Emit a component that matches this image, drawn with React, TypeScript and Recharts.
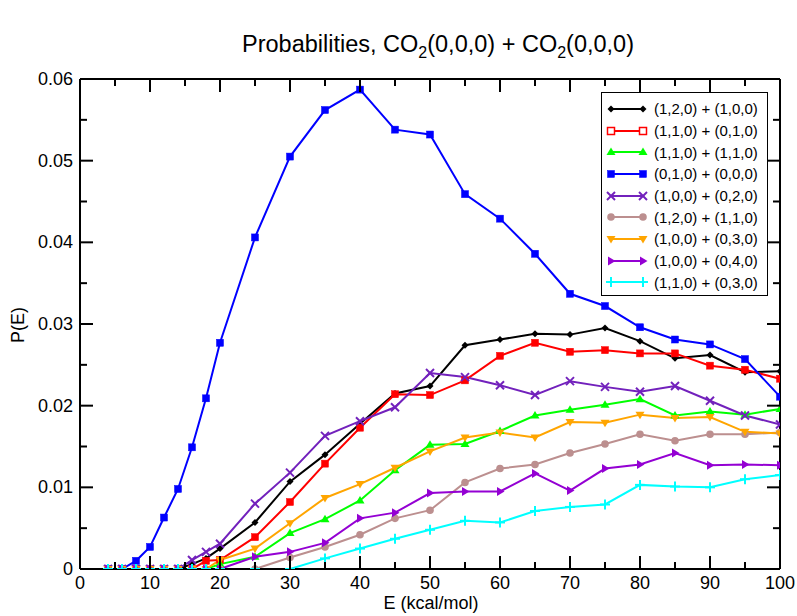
import React from 'react';
import { LineChart, Line, XAxis, YAxis } from 'recharts';

// energies (kcal/mol) at which P(E) was sampled
const energies = [4, 6, 8, 10, 12, 14, 16, 18, 20, 25, 30, 35, 40, 45, 50, 55, 60, 65, 70, 75, 80, 85, 90, 95, 100];

const p120_100 = [0, 0, 0, 0, 0, 0, 0.0006, 0.0013, 0.0025, 0.0057, 0.0107, 0.014, 0.0178, 0.0215, 0.0224, 0.0274, 0.0281, 0.0288, 0.0287, 0.0295, 0.0279, 0.0258, 0.0262, 0.0241, 0.0242];
const p110_010 = [0, 0, 0, 0, 0, 0, 0, 0.001, 0.0011, 0.0039, 0.0082, 0.0129, 0.0173, 0.0214, 0.0213, 0.0231, 0.0261, 0.0277, 0.0266, 0.0268, 0.0264, 0.0264, 0.0249, 0.0244, 0.0233];
const p110_110 = [0, 0, 0, 0, 0, 0, 0, 0, 0.0006, 0.0015, 0.0044, 0.0061, 0.0084, 0.0121, 0.0152, 0.0153, 0.0169, 0.0188, 0.0195, 0.0201, 0.0208, 0.0188, 0.0193, 0.0189, 0.0196];
const p010_000 = [0, 0, 0.001, 0.0027, 0.0063, 0.0098, 0.0149, 0.0209, 0.0277, 0.0406, 0.0505, 0.0562, 0.0587, 0.0538, 0.0532, 0.0459, 0.0429, 0.0386, 0.0337, 0.0322, 0.0296, 0.0281, 0.0275, 0.0257, 0.0211];
const p100_020 = [0, 0, 0, 0, 0, 0, 0.0011, 0.0021, 0.0031, 0.008, 0.0118, 0.0163, 0.0181, 0.0198, 0.024, 0.0235, 0.0225, 0.0213, 0.023, 0.0223, 0.0217, 0.0224, 0.0206, 0.0188, 0.0177];
const p120_110 = [0, 0, 0, 0, 0, 0, 0, 0, 0, 0, 0.0014, 0.0027, 0.0042, 0.0062, 0.0072, 0.0106, 0.0123, 0.0128, 0.0142, 0.0153, 0.0165, 0.0157, 0.0165, 0.0165, 0.0167];
const p100_030 = [0, 0, 0, 0, 0, 0, 0, 0, 0.0011, 0.0025, 0.0056, 0.0087, 0.0104, 0.0124, 0.0144, 0.0161, 0.0167, 0.0161, 0.018, 0.0179, 0.0189, 0.0185, 0.0186, 0.0168, 0.0166];
const p100_040 = [0, 0, 0, 0, 0, 0, 0, 0, 0, 0.0015, 0.0021, 0.0032, 0.0062, 0.0069, 0.0093, 0.0095, 0.0095, 0.0117, 0.0096, 0.0123, 0.0128, 0.0142, 0.0127, 0.0128, 0.0127];
const p110_030 = [0, 0, 0, 0, 0, 0, 0, 0, 0, 0, 0, 0.0013, 0.0025, 0.0037, 0.0048, 0.0059, 0.0057, 0.0071, 0.0076, 0.0079, 0.0103, 0.0101, 0.01, 0.011, 0.0115];

const xTicks = [0, 5, 10, 15, 20, 25, 30, 35, 40, 45, 50, 55, 60, 65, 70, 75, 80, 85, 90, 95, 100];
const yTicks = [0, 0.005, 0.01, 0.015, 0.02, 0.025, 0.03, 0.035, 0.04, 0.045, 0.05, 0.055, 0.06];

type Shape = 'diamond' | 'square' | 'triUp' | 'cross' | 'circle' | 'triDown' | 'triRight' | 'plus';

const series: { key: string; name: string; color: string; shape: Shape; values: number[] }[] = [
  { key: 's0', name: '(1,2,0) + (1,0,0)', color: '#000000', shape: 'diamond', values: p120_100 },
  { key: 's1', name: '(1,1,0) + (0,1,0)', color: '#ff0000', shape: 'square', values: p110_010 },
  { key: 's2', name: '(1,1,0) + (1,1,0)', color: '#00ff00', shape: 'triUp', values: p110_110 },
  { key: 's3', name: '(0,1,0) + (0,0,0)', color: '#0000ff', shape: 'square', values: p010_000 },
  { key: 's4', name: '(1,0,0) + (0,2,0)', color: '#7221bc', shape: 'cross', values: p100_020 },
  { key: 's5', name: '(1,2,0) + (1,1,0)', color: '#bc8f8f', shape: 'circle', values: p120_110 },
  { key: 's6', name: '(1,0,0) + (0,3,0)', color: '#ffa500', shape: 'triDown', values: p100_030 },
  { key: 's7', name: '(1,0,0) + (0,4,0)', color: '#9400d3', shape: 'triRight', values: p100_040 },
  { key: 's8', name: '(1,1,0) + (0,3,0)', color: '#00ffff', shape: 'plus', values: p110_030 },
];

const data = energies.map((E, i) => {
  const row: Record<string, number> = { E };
  series.forEach((s) => (row[s.key] = s.values[i]));
  return row;
});

const FONT = '"Liberation Sans", Arial, Helvetica, sans-serif';

function Marker({ shape, cx, cy, color, hollow }: { shape: Shape; cx: number; cy: number; color: string; hollow?: boolean }) {
  const r = 3.5;
  switch (shape) {
    case 'diamond':
      return <polygon points={`${cx},${cy - r} ${cx + r},${cy} ${cx},${cy + r} ${cx - r},${cy}`} fill={color} />;
    case 'square':
      return (
        <rect
          x={cx - 3.5}
          y={cy - 3.5}
          width={7}
          height={7}
          fill={hollow ? '#fff' : color}
          stroke={color}
          strokeWidth={hollow ? 1.5 : 0.5}
        />
      );
    case 'triUp':
      return <polygon points={`${cx},${cy - 4.5} ${cx + 4.5},${cy + 3} ${cx - 4.5},${cy + 3}`} fill={color} />;
    case 'triDown':
      return <polygon points={`${cx - 4.5},${cy - 3} ${cx + 4.5},${cy - 3} ${cx},${cy + 4.5}`} fill={color} />;
    case 'triRight':
      return <polygon points={`${cx - 3},${cy - 4.5} ${cx + 4.5},${cy} ${cx - 3},${cy + 4.5}`} fill={color} />;
    case 'circle':
      return <circle cx={cx} cy={cy} r={3.8} fill={color} />;
    case 'cross':
      return (
        <g stroke={color} strokeWidth={2}>
          <line x1={cx - 4} y1={cy - 4} x2={cx + 4} y2={cy + 4} />
          <line x1={cx - 4} y1={cy + 4} x2={cx + 4} y2={cy - 4} />
        </g>
      );
    case 'plus':
      return (
        <g stroke={color} strokeWidth={2}>
          <line x1={cx - 5} y1={cy} x2={cx + 5} y2={cy} />
          <line x1={cx} y1={cy - 5} x2={cx} y2={cy + 5} />
        </g>
      );
  }
  return null;
}

const isMajorX = (v: number) => v % 10 === 0;
const isMajorY = (v: number) => Math.round(v * 1000) % 10 === 0;

function BottomTick(props: any) {
  const { x, y, payload } = props;
  const major = isMajorX(payload.value);
  return (
    <g>
      <line x1={x} y1={y} x2={x} y2={y - (major ? 13 : 7)} stroke="#000" strokeWidth={2} />
      {major && (
        <text x={x} y={y + 20} textAnchor="middle" fontSize={18} fontFamily={FONT} fill="#000">
          {payload.value}
        </text>
      )}
    </g>
  );
}

function TopTick(props: any) {
  const { x, y, payload } = props;
  const major = isMajorX(payload.value);
  return <line x1={x} y1={y} x2={x} y2={y + (major ? 13 : 7)} stroke="#000" strokeWidth={2} />;
}

function LeftTick(props: any) {
  const { x, y, payload } = props;
  const major = isMajorY(payload.value);
  return (
    <g>
      <line x1={x} y1={y} x2={x + (major ? 13 : 7)} y2={y} stroke="#000" strokeWidth={2} />
      {major && (
        <text x={x - 7} y={y + 6} textAnchor="end" fontSize={18} fontFamily={FONT} fill="#000">
          {String(payload.value)}
        </text>
      )}
    </g>
  );
}

function RightTick(props: any) {
  const { x, y, payload } = props;
  const major = isMajorY(payload.value);
  return <line x1={x} y1={y} x2={x - (major ? 13 : 7)} y2={y} stroke="#000" strokeWidth={2} />;
}

function ChartLegend() {
  return (
    <div
      style={{
        position: 'absolute',
        left: 601,
        top: 92,
        width: 167,
        height: 204,
        border: '1px solid #000',
        background: '#fff',
        fontFamily: FONT,
        fontSize: 15,
        boxSizing: 'border-box',
        paddingTop: 5,
      }}
    >
      {series.map((s, i) => (
        <div key={s.key} style={{ display: 'flex', alignItems: 'center', height: 21.7 }}>
          <svg width={52} height={16} style={{ flex: 'none' }}>
            <line x1={9} y1={8} x2={41} y2={8} stroke={s.color} strokeWidth={2} />
            <Marker shape={s.shape} cx={9} cy={8} color={s.color} hollow={i === 1} />
            <Marker shape={s.shape} cx={41} cy={8} color={s.color} hollow={i === 1} />
          </svg>
          <span style={{ whiteSpace: 'nowrap' }}>{s.name}</span>
        </div>
      ))}
    </div>
  );
}

export default function App() {
  return (
    <div style={{ position: 'absolute', left: 0, top: 0, width: 797, height: 616, background: '#fff', fontFamily: FONT }}>
      <div
        style={{
          position: 'absolute',
          left: 438,
          top: 30,
          transform: 'translateX(-50%)',
          whiteSpace: 'nowrap',
          fontSize: 23.5,
          lineHeight: '28px',
        }}
      >
        Probabilities, CO<sub style={{ fontSize: 16 }}>2</sub>(0,0,0) + CO<sub style={{ fontSize: 16 }}>2</sub>(0,0,0)
      </div>
      <LineChart width={797} height={616} data={data} margin={{ top: 78, right: 16, bottom: 46, left: 79 }}>
        <XAxis
          dataKey="E"
          type="number"
          domain={[0, 100]}
          ticks={xTicks}
          interval={0}
          height={1}
          tickSize={0}
          tickMargin={0}
          tickLine={false}
          tick={<BottomTick />}
          axisLine={{ stroke: '#000', strokeWidth: 2 }}
          allowDataOverflow
        />
        <XAxis
          xAxisId="top"
          orientation="top"
          dataKey="E"
          type="number"
          domain={[0, 100]}
          ticks={xTicks}
          interval={0}
          height={1}
          tickSize={0}
          tickMargin={0}
          tickLine={false}
          tick={<TopTick />}
          axisLine={{ stroke: '#000', strokeWidth: 2 }}
          allowDataOverflow
        />
        <YAxis
          type="number"
          domain={[0, 0.06]}
          ticks={yTicks}
          interval={0}
          width={1}
          tickSize={0}
          tickMargin={0}
          tickLine={false}
          tick={<LeftTick />}
          axisLine={{ stroke: '#000', strokeWidth: 2 }}
          allowDataOverflow
        />
        <YAxis
          yAxisId="right"
          orientation="right"
          type="number"
          domain={[0, 0.06]}
          ticks={yTicks}
          interval={0}
          width={1}
          tickSize={0}
          tickMargin={0}
          tickLine={false}
          tick={<RightTick />}
          axisLine={{ stroke: '#000', strokeWidth: 2 }}
          allowDataOverflow
        />
        {series.map((s) => (
          <Line
            key={s.key}
            dataKey={s.key}
            name={s.name}
            stroke={s.color}
            strokeWidth={2}
            isAnimationActive={false}
            dot={(p: any) => <Marker key={`${s.key}-${p.index}`} shape={s.shape} cx={p.cx} cy={p.cy} color={s.color} />}
            activeDot={false}
          />
        ))}
      </LineChart>
      <div style={{ position: 'absolute', left: 431, top: 593, transform: 'translateX(-50%)', fontSize: 18, whiteSpace: 'nowrap' }}>
        E (kcal/mol)
      </div>
      <div
        style={{
          position: 'absolute',
          left: 18,
          top: 325,
          transform: 'translate(-50%, -50%) rotate(-90deg)',
          fontSize: 18,
          whiteSpace: 'nowrap',
        }}
      >
        P(E)
      </div>
      <ChartLegend />
    </div>
  );
}
